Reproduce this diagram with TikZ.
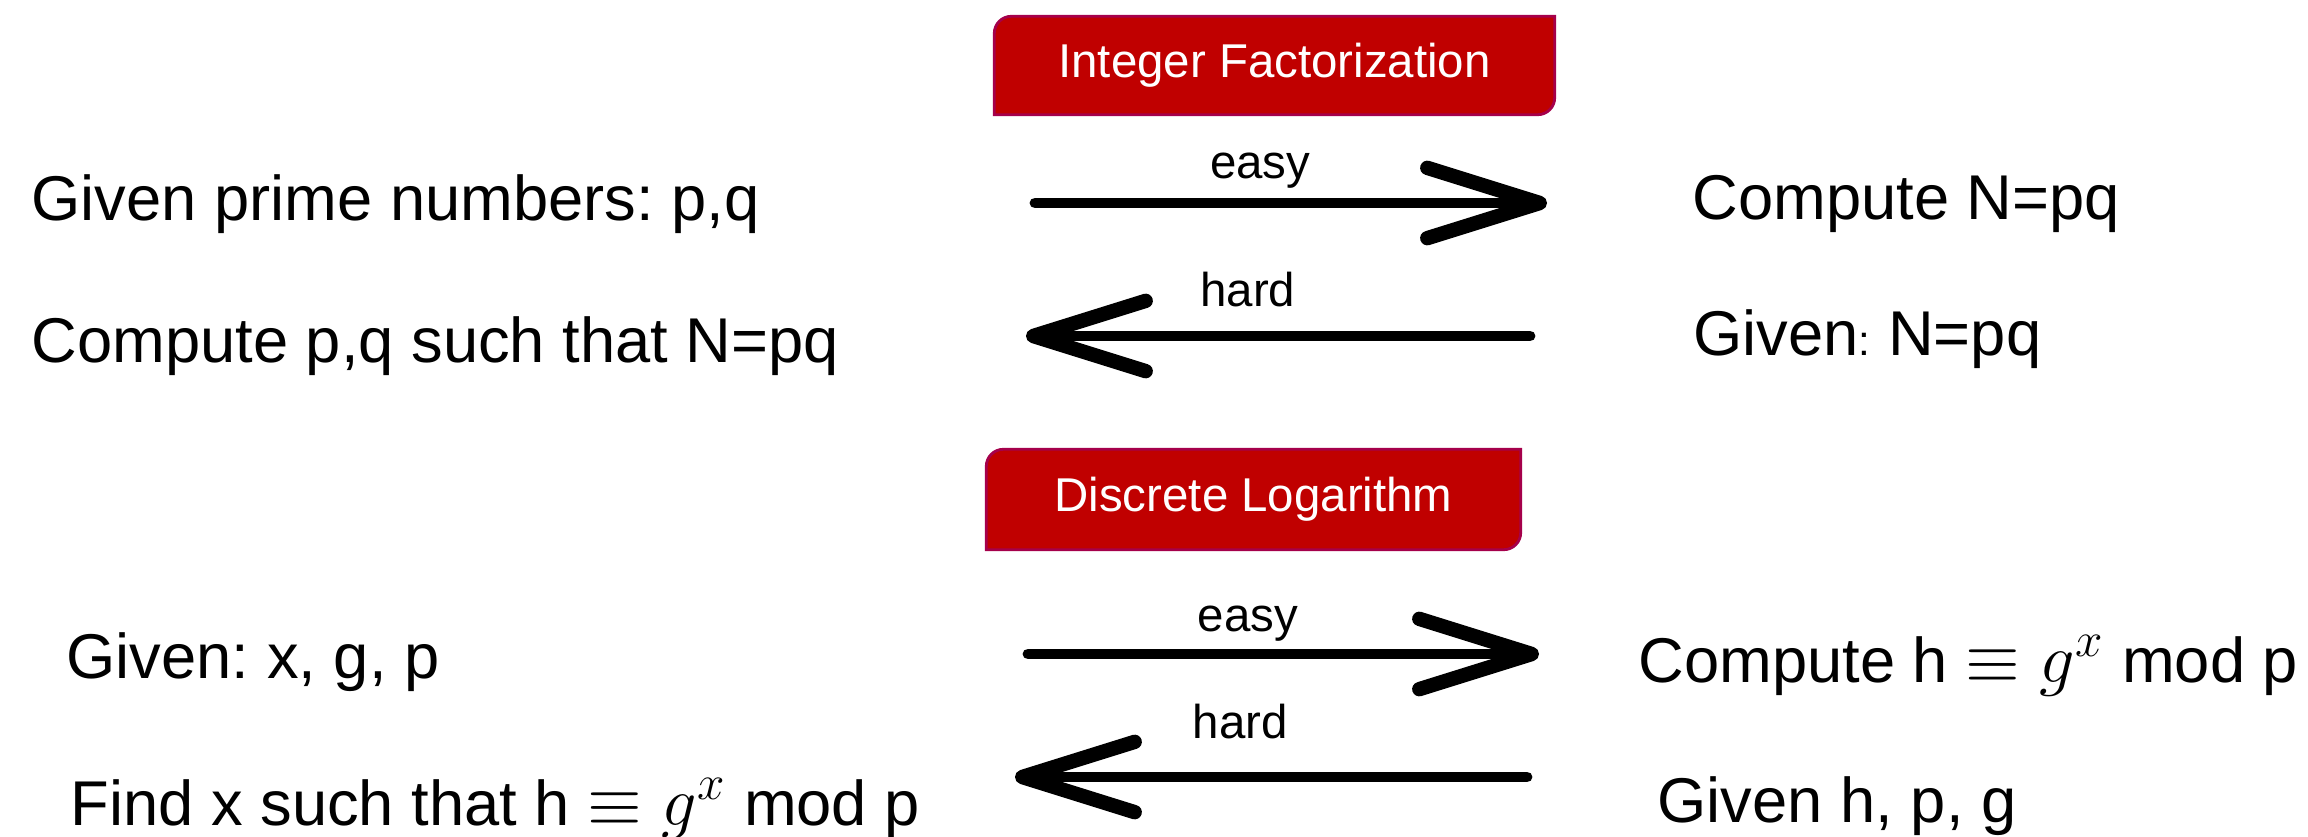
\RequirePackage{fix-cm}
\documentclass[tikz,border=0pt]{standalone}
\usepackage{amsmath}
\usepackage{fontspec}
\setmainfont{Liberation Sans}
\usetikzlibrary{arrows.meta,calc,backgrounds}
\frenchspacing

\definecolor{hdrred}{RGB}{192,0,0}
\definecolor{hdrline}{RGB}{165,0,75}

% header box: round corners top left and bottom right only
\newcommand{\hdrshape}[1]{%
	\draw[hdrbox] (#1.south west) -- ($(#1.north west)+(0,-0.17)$)
		arc[start angle=180, end angle=90, radius=0.17] -- (#1.north east)
		-- ($(#1.south east)+(0,0.17)$)
		arc[start angle=0, end angle=-90, radius=0.17] -- cycle;}
\newcommand{\hgx}{{\fontsize{20}{24}\selectfont$\equiv$ $g^{x}$}}

\begin{document}
\begin{tikzpicture}[
	txt/.style={anchor=base west, inner sep=0pt, font=\fontsize{18}{22}\selectfont},
	lbl/.style={anchor=base, inner sep=0pt, font=\fontsize{13.5}{16}\selectfont},
	hdr/.style={text=white, inner sep=0pt, font=\fontsize{13.5}{16}\selectfont},
	hdrbox/.style={fill=hdrred, draw=hdrline, line width=0.8pt},
	arr/.style={line width=3.1pt, line cap=round, -{Straight Barb[length=32pt, width=20pt, line width=1pt 1, round]}},
	]
	\useasboundingbox (0,0) rectangle (23.08,-8.37);
	
	\node[hdr, minimum width=5.59cm, minimum height=0.97cm] (fact) at (12.745,-0.655) {Integer Factorization};
	\node[hdr, minimum width=5.33cm, minimum height=0.99cm] (dlog) at (12.535,-4.995) {Discrete Logarithm};
	\begin{scope}[on background layer]
		\hdrshape{fact}
		\hdrshape{dlog}
	\end{scope}
	
	\node[txt] (gp)  at (0.31,-2.20)  {Given prime numbers: p,q};
	\node[txt] (cpq) at (0.31,-3.62)  {Compute p,q such that N=pq};
	\node[txt] (cn)  at (16.92,-2.19) {Compute N=pq};
	\node[txt] (gn)  at (16.93,-3.55) {Given{\fontsize{12}{14}\selectfont:} N=pq};
	
	\node[txt] (gx) at (0.66,-6.78)  {Given: x, g, p};
	\node[txt] (fx) at (0.70,-8.25)  {Find x such that h \hgx{} mod p};
	\node[txt] (ch) at (16.38,-6.82) {Compute h \hgx{} mod p};
	\node[txt] (gh) at (16.57,-8.22) {Given h, p, g};
	
	\coordinate (e1s) at (10.35,-2.03);
	\coordinate (e1t) at (15.47,-2.03);
	\coordinate (h1s) at (15.30,-3.36);
	\coordinate (h1t) at (10.26,-3.36);
	\coordinate (e2s) at (10.28,-6.54);
	\coordinate (e2t) at (15.39,-6.54);
	\coordinate (h2s) at (15.27,-7.77);
	\coordinate (h2t) at (10.15,-7.77);
	
	\path[arr] (e1s) edge node[lbl, pos=.44, yshift=7.1pt]{easy} (e1t);
	\path[arr] (h1s) edge node[lbl, pos=.56, yshift=8.3pt]{hard} (h1t);
	\path[arr] (e2s) edge node[lbl, pos=.43, yshift=6.3pt]{easy} (e2t);
	\path[arr] (h2s) edge node[lbl, pos=.56, yshift=11pt]{hard} (h2t);
	
\end{tikzpicture}
\end{document}
